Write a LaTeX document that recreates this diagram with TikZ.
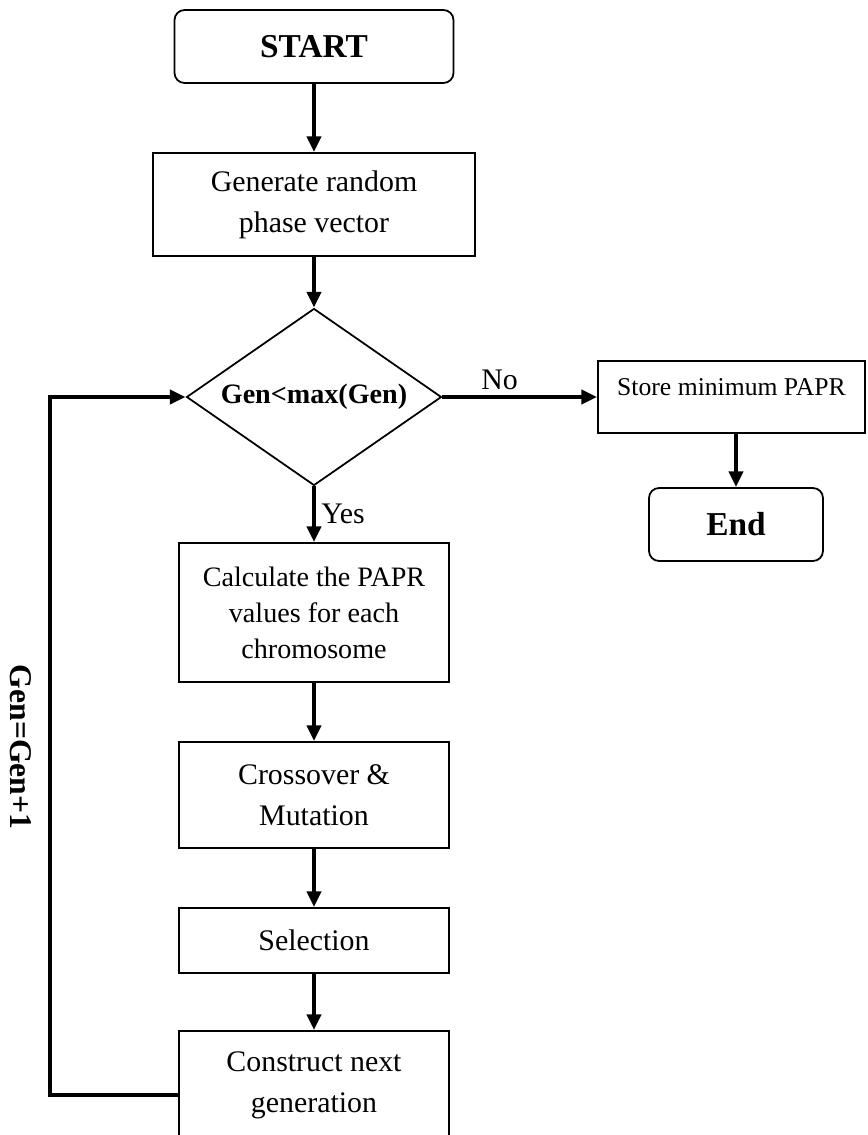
\documentclass[tikz,border=0pt]{standalone}
\usepackage{fontspec}
\setmainfont{Liberation Serif}
\usepackage{tikz}
\usetikzlibrary{shapes.geometric}
\usetikzlibrary{arrows.meta}
\usetikzlibrary{calc}
\usepackage{color}

\tikzset{
    terminal/.style = {draw, rounded corners=0.2cm, line width=1pt, inner sep=0pt,
                       font=\fontsize{19}{23}\selectfont\bfseries},
    process/.style  = {draw, line width=1pt, align=center, inner sep=0pt,
                       minimum width=5.40cm, font=\fontsize{17}{23.5}\selectfont},
    decision/.style = {draw, diamond, aspect=1.44, line width=1pt, inner sep=0pt,
                       minimum width=5.10cm, minimum height=3.54cm,
                       font=\fontsize{16}{19}\selectfont\bfseries},
    flow/.style     = {line width=2.3pt, -{Triangle[length=9pt,width=8pt]}},
    answer/.style   = {inner sep=3pt, font=\fontsize{17}{20}\selectfont},
}

\begin{document}
\begin{tikzpicture}[x=0.02cm, y=-0.02cm]
            % Frame to keep the page size:
            \clip                                                        (  0,    0) rectangle (868, 1135);
            \useasboundingbox                                            (  0,    0) rectangle (868, 1135);

            % Main column:
            \node[terminal, minimum width=5.58cm, minimum height=1.46cm] (start)  at (314,   46.5) {START};
            \node[process,  minimum width=6.44cm, minimum height=2.06cm] (gen)    at (314,  204.5) {Generate random\\phase vector};
            \node[decision]                                              (test)   at (314,  397)   {Gen<max(Gen)};
            \node[process,  minimum height=2.78cm,
                  font=\fontsize{16}{20.5}\selectfont]                   (calc)   at (314,  612.5) {Calculate the PAPR\\values for each\\chromosome};
            \node[process,  minimum height=2.12cm]                       (cross)  at (314,  795)   {Crossover \&\\Mutation};
            \node[process,  minimum height=1.30cm]                       (select) at (314,  940.5) {Selection};
            \node[process,  minimum height=2.16cm]                       (next)   at (314, 1085)   {Construct next\\generation};

            % Exit branch:
            \node[process,  minimum width=5.34cm, text height=0.68cm, text depth=0.76cm,
                  font=\fontsize{14.6}{17}\selectfont]                   (store)  at (731.5, 397)  {Store minimum PAPR};
            \node[terminal, minimum width=3.48cm, minimum height=1.46cm] (stop)   at (736,  524.5) {End};

            % Connectors:
            \draw[flow] (start)  -- (gen);
            \draw[flow] (gen)    -- (test);
            \draw[flow] (test.south) -- (calc.north) node[answer, midway, right] (yes) {Yes};
            \draw[flow] (calc)   -- (cross);
            \draw[flow] (cross)  -- (select);
            \draw[flow] (select) -- (next);
            \draw[flow] (test.east)  -- (store.west) node[answer, pos=0.37, above] (no) {No};
            \draw[flow] (stop.north |- store.south) -- (stop.north);

            % Loop back to the test:
            \coordinate (back) at (50, 1095);
            \draw[flow] (back -| next.west) -- (back) |- (test.west);
            \node[rotate=-90, font=\fontsize{18}{20}\selectfont\bfseries] (inc) at (21, 747) {Gen=Gen+1};
\end{tikzpicture}
\end{document}
